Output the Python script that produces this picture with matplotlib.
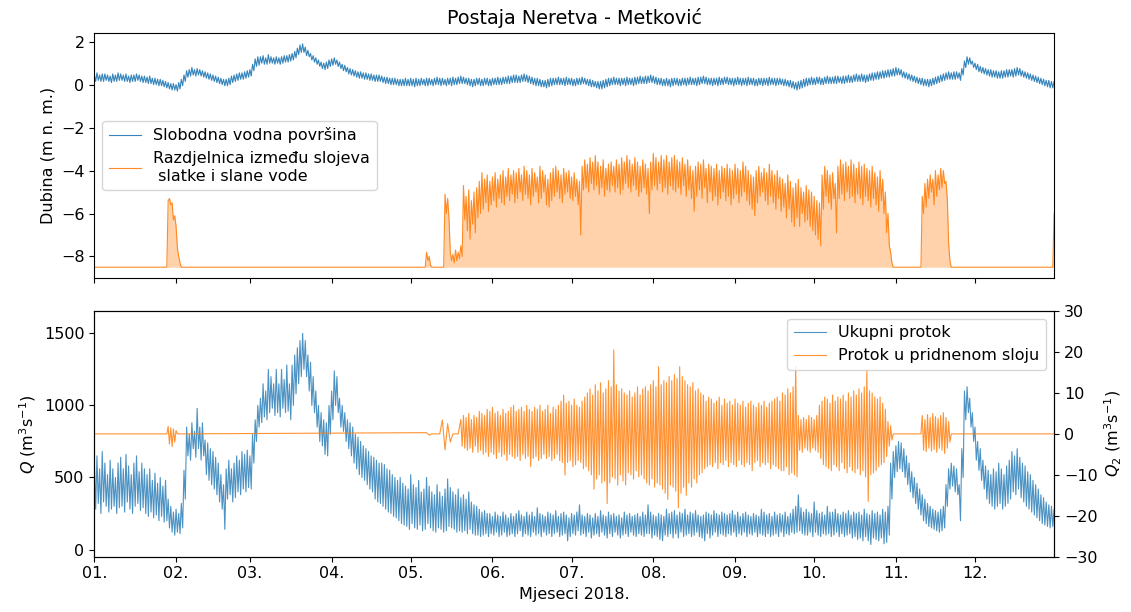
import numpy as np
import pandas as pd
import matplotlib.pyplot as plt
import matplotlib.dates as mdates

plt.rcParams['font.size'] = 11.5

START = pd.Timestamp('2018-01-01')
LAST_DAY = 364
HALF_DAY = 0.5

# Water level at Metković (m a.s.l.), high and low tide of each day (5 days per row)
level = [
    0.45, 0.15, 0.55, 0.2, 0.45, 0.15, 0.5, 0.15, 0.5, 0.2,
    0.45, 0.15, 0.4, 0.1, 0.5, 0.15, 0.45, 0.15, 0.55, 0.2,
    0.5, 0.2, 0.45, 0.15, 0.5, 0.15, 0.4, 0.1, 0.45, 0.15,
    0.45, 0.15, 0.5, 0.2, 0.45, 0.15, 0.4, 0.1, 0.4, 0.1,
    0.35, 0.05, 0.4, 0.05, 0.3, 0.0, 0.3, 0.0, 0.25, -0.05,
    0.25, -0.05, 0.2, -0.1, 0.15, -0.15, 0.1, -0.2, 0.05, -0.25,
    0.05, -0.25, 0.0, -0.3, 0.1, -0.2, 0.25, -0.05, 0.45, 0.15,
    0.65, 0.35, 0.7, 0.4, 0.8, 0.45, 0.7, 0.4, 0.75, 0.45,
    0.7, 0.4, 0.65, 0.35, 0.6, 0.3, 0.55, 0.25, 0.5, 0.2,
    0.45, 0.15, 0.4, 0.1, 0.35, 0.05, 0.3, 0.0, 0.25, -0.05,
    0.25, -0.05, 0.3, 0.0, 0.4, 0.1, 0.45, 0.15, 0.5, 0.2,
    0.55, 0.25, 0.55, 0.25, 0.6, 0.3, 0.65, 0.35, 0.7, 0.4,
    0.95, 0.65, 1.2, 0.85, 1.3, 0.9, 1.3, 1.0, 1.35, 0.95,
    1.25, 0.95, 1.4, 1.0, 1.3, 1.0, 1.25, 0.95, 1.3, 1.0,
    1.25, 0.95, 1.3, 1.0, 1.35, 1.05, 1.35, 1.05, 1.4, 1.1,
    1.45, 1.15, 1.55, 1.25, 1.7, 1.4, 1.85, 1.5, 1.9, 1.5,
    1.75, 1.35, 1.6, 1.3, 1.45, 1.15, 1.35, 1.05, 1.25, 0.95,
    1.15, 0.85, 1.05, 0.75, 1.0, 0.7, 1.05, 0.75, 1.15, 0.85,
    1.2, 0.9, 1.25, 0.95, 1.15, 0.85, 1.05, 0.75, 0.95, 0.65,
    0.9, 0.6, 0.8, 0.5, 0.75, 0.45, 0.7, 0.4, 0.65, 0.35,
    0.6, 0.3, 0.6, 0.3, 0.55, 0.25, 0.55, 0.25, 0.5, 0.2,
    0.5, 0.2, 0.45, 0.15, 0.45, 0.15, 0.45, 0.15, 0.4, 0.1,
    0.35, 0.05, 0.35, 0.05, 0.3, 0.0, 0.3, 0.0, 0.3, 0.0,
    0.25, -0.05, 0.25, -0.05, 0.25, -0.05, 0.3, -0.05, 0.25, -0.05,
    0.3, -0.05, 0.25, -0.1, 0.3, -0.05, 0.25, -0.05, 0.3, 0.0,
    0.25, -0.05, 0.3, -0.05, 0.3, 0.0, 0.25, -0.05, 0.3, 0.0,
    0.35, 0.0, 0.3, -0.05, 0.3, 0.0, 0.25, -0.05, 0.3, 0.0,
    0.3, -0.05, 0.35, 0.0, 0.3, 0.0, 0.35, 0.05, 0.4, 0.05,
    0.35, 0.05, 0.3, 0.0, 0.3, -0.05, 0.25, -0.1, 0.25, -0.05,
    0.3, 0.0, 0.3, -0.05, 0.25, -0.05, 0.3, 0.0, 0.3, -0.05,
    0.25, -0.05, 0.3, 0.0, 0.3, 0.0, 0.35, 0.0, 0.3, 0.0,
    0.35, 0.05, 0.35, 0.05, 0.4, 0.05, 0.4, 0.1, 0.45, 0.1,
    0.45, 0.1, 0.4, 0.1, 0.45, 0.15, 0.5, 0.15, 0.45, 0.1,
    0.4, 0.05, 0.35, 0.0, 0.3, -0.05, 0.3, -0.05, 0.25, -0.1,
    0.2, -0.1, 0.2, -0.15, 0.25, -0.1, 0.3, -0.05, 0.3, 0.0,
    0.3, 0.0, 0.35, 0.0, 0.3, 0.0, 0.3, -0.05, 0.35, 0.0,
    0.3, 0.0, 0.3, -0.05, 0.25, -0.05, 0.3, 0.0, 0.3, 0.0,
    0.35, 0.05, 0.3, 0.0, 0.25, -0.05, 0.25, -0.1, 0.2, -0.1,
    0.15, -0.15, 0.15, -0.2, 0.15, -0.2, 0.2, -0.15, 0.25, -0.1,
    0.3, -0.05, 0.3, 0.0, 0.35, 0.0, 0.3, 0.0, 0.3, -0.05,
    0.3, 0.0, 0.3, -0.05, 0.35, 0.0, 0.3, 0.0, 0.3, -0.05,
    0.35, 0.0, 0.35, 0.05, 0.4, 0.05, 0.35, 0.05, 0.4, 0.05,
    0.4, 0.1, 0.45, 0.1, 0.4, 0.05, 0.35, 0.0, 0.3, 0.0,
    0.3, -0.05, 0.25, -0.05, 0.3, -0.05, 0.25, -0.1, 0.3, -0.05,
    0.3, 0.0, 0.3, -0.05, 0.25, -0.05, 0.3, 0.0, 0.3, -0.05,
    0.3, 0.0, 0.35, 0.0, 0.3, 0.0, 0.3, -0.05, 0.35, 0.0,
    0.35, 0.05, 0.4, 0.05, 0.35, 0.0, 0.3, 0.0, 0.3, -0.05,
    0.3, 0.0, 0.3, -0.05, 0.35, 0.0, 0.3, 0.0, 0.35, 0.05,
    0.35, 0.0, 0.3, 0.0, 0.3, -0.05, 0.3, 0.0, 0.35, 0.0,
    0.3, -0.05, 0.3, 0.0, 0.3, -0.05, 0.35, 0.0, 0.3, 0.0,
    0.3, -0.05, 0.25, -0.05, 0.3, 0.0, 0.3, -0.05, 0.3, 0.0,
    0.3, -0.05, 0.35, 0.0, 0.3, 0.0, 0.3, -0.05, 0.3, 0.0,
    0.3, 0.0, 0.25, -0.05, 0.25, -0.05, 0.2, -0.1, 0.2, -0.15,
    0.15, -0.2, 0.1, -0.25, 0.15, -0.2, 0.2, -0.15, 0.25, -0.1,
    0.3, -0.05, 0.3, 0.0, 0.35, 0.0, 0.3, 0.0, 0.35, 0.05,
    0.35, 0.0, 0.3, 0.0, 0.35, 0.05, 0.4, 0.05, 0.35, 0.05,
    0.35, 0.05, 0.4, 0.05, 0.4, 0.1, 0.35, 0.05, 0.4, 0.05,
    0.4, 0.1, 0.45, 0.1, 0.4, 0.1, 0.45, 0.15, 0.5, 0.15,
    0.45, 0.15, 0.5, 0.15, 0.45, 0.1, 0.45, 0.15, 0.5, 0.2,
    0.55, 0.2, 0.55, 0.25, 0.6, 0.25, 0.6, 0.3, 0.65, 0.3,
    0.65, 0.35, 0.7, 0.35, 0.7, 0.4, 0.75, 0.4, 0.8, 0.45,
    0.75, 0.45, 0.7, 0.35, 0.6, 0.3, 0.55, 0.25, 0.5, 0.2,
    0.45, 0.15, 0.4, 0.1, 0.35, 0.05, 0.3, 0.0, 0.3, -0.05,
    0.25, -0.05, 0.25, -0.1, 0.25, -0.05, 0.3, 0.0, 0.35, 0.05,
    0.4, 0.1, 0.45, 0.15, 0.5, 0.2, 0.55, 0.25, 0.6, 0.25,
    0.55, 0.25, 0.6, 0.25, 0.6, 0.3, 0.55, 0.2, 0.75, 0.45,
    1.1, 0.8, 1.3, 0.95, 1.25, 0.95, 1.1, 0.8, 1.0, 0.7,
    0.95, 0.6, 0.85, 0.55, 0.8, 0.5, 0.75, 0.45, 0.7, 0.4,
    0.7, 0.35, 0.65, 0.35, 0.65, 0.3, 0.6, 0.3, 0.65, 0.3,
    0.65, 0.35, 0.7, 0.35, 0.7, 0.4, 0.7, 0.35, 0.75, 0.4,
    0.8, 0.45, 0.75, 0.4, 0.65, 0.35, 0.6, 0.3, 0.55, 0.25,
    0.5, 0.2, 0.45, 0.15, 0.4, 0.1, 0.35, 0.05, 0.3, 0.0,
    0.25, -0.05, 0.2, -0.1, 0.2, -0.15, 0.15, -0.15, 0.15, -0.2,
]

# Depth of the fresh/salt water interface (m); -8.5 is the river bed
IFACE_BASE = -8.5
iface_jan = [-8.5, -5.4, -5.3, -5.6, -5.5, -6.3, -6.1, -6.6, -7.6, -8.0, -8.3, -8.5]
iface_summer = [
    -8.5, -8.5, -7.8, -8.2, -8.0, -8.4, -8.5, -8.5, -8.5, -8.5,
    -8.5, -8.5, -8.5, -8.5, -8.5, -8.5, -5.1, -6.0, -5.3, -6.2,
    -7.8, -8.2, -7.9, -8.3, -7.7, -8.2, -7.8, -8.1, -7.5, -8.0,
    -4.7, -6.3, -5.2, -6.8, -4.9, -7.2, -5.4, -6.5, -5.0, -6.9,
    -4.8, -6.2, -4.5, -6.0, -4.1, -5.8, -4.4, -5.5, -4.2, -5.9,
    -4.5, -5.6, -4.3, -5.4, -4.1, -5.7, -4.4, -5.3, -4.2, -5.5,
    -4.0, -5.6, -4.3, -5.2, -3.9, -5.4, -4.2, -5.1, -4.0, -5.5,
    -4.1, -5.3, -3.9, -5.0, -4.2, -5.4, -3.8, -5.1, -4.0, -5.3,
    -4.2, -5.6, -3.9, -5.2, -4.1, -5.0, -4.3, -5.5, -3.8, -5.3,
    -4.0, -5.0, -4.2, -5.6, -4.4, -5.7, -4.1, -5.4, -3.9, -5.2,
    -3.8, -5.0, -4.0, -5.3, -4.2, -5.5, -3.9, -5.1, -4.1, -5.0,
    -4.0, -5.3, -4.3, -5.4, -4.1, -5.2, -4.4, -5.6, -4.5, -7.0,
    -3.8, -4.9, -3.5, -4.8, -3.7, -5.0, -3.4, -4.6, -3.6, -4.9,
    -3.3, -4.7, -3.6, -5.1, -3.8, -4.8, -3.5, -5.2, -3.9, -4.9,
    -3.7, -5.0, -3.6, -4.7, -3.8, -5.0, -3.5, -4.8, -3.7, -5.1,
    -3.4, -4.9, -3.6, -4.6, -3.3, -4.8, -3.5, -5.0, -3.7, -4.7,
    -3.4, -4.9, -3.6, -5.2, -3.8, -5.0, -3.5, -4.8, -3.7, -5.1,
    -3.9, -6.0, -3.6, -4.9, -3.2, -4.7, -3.4, -4.9, -3.6, -4.6,
    -3.3, -5.0, -3.5, -4.8, -3.3, -5.1, -3.6, -4.7, -3.4, -4.9,
    -3.3, -5.0, -3.5, -4.8, -3.6, -5.1, -3.4, -4.7, -3.7, -5.2,
    -3.5, -4.9, -3.8, -5.3, -4.0, -5.9, -3.8, -5.2, -3.6, -4.9,
    -3.7, -5.3, -3.5, -4.8, -3.9, -5.5, -3.7, -5.0, -3.8, -5.4,
    -3.9, -5.2, -3.7, -5.6, -4.0, -5.3, -3.8, -5.0, -3.9, -5.4,
    -3.7, -5.2, -3.9, -5.6, -4.0, -5.3, -3.7, -5.1, -3.9, -5.5,
    -4.0, -5.2, -3.6, -5.0, -3.8, -5.4, -4.0, -5.6, -4.2, -5.8,
    -4.3, -6.1, -4.0, -5.5, -3.8, -5.2, -4.1, -5.0, -3.9, -5.4,
    -4.1, -5.6, -3.7, -5.2, -4.0, -5.5, -4.2, -5.8, -4.0, -5.3,
    -4.3, -5.9, -4.4, -5.7, -4.6, -6.2, -4.2, -5.8, -4.5, -6.4,
    -4.8, -6.6, -4.6, -6.2, -4.4, -6.6, -4.8, -6.0, -5.0, -6.4,
    -4.7, -6.3, -4.9, -6.6, -5.0, -6.8, -5.2, -7.0, -5.4, -7.2,
    -5.5, -7.5, -4.2, -5.8, -3.8, -5.2, -4.0, -5.5, -4.2, -5.8,
    -4.1, -5.3, -4.6, -6.9, -3.8, -5.3, -3.5, -5.1, -3.7, -5.4,
    -3.6, -5.0, -3.8, -5.3, -3.5, -5.2, -3.7, -5.5, -3.9, -5.1,
    -3.6, -5.3, -3.8, -5.6, -3.7, -5.2, -3.9, -5.4, -4.0, -5.7,
    -3.8, -5.3, -4.1, -5.6, -4.3, -5.9, -4.0, -5.4, -4.4, -6.0,
    -5.0, -6.9, -6.0, -7.5, -7.8, -8.3, -8.5, -8.5,
]
iface_nov = [
    -8.5, -8.5, -5.2, -6.0, -4.6, -5.7, -4.4, -5.3, -4.2, -5.0,
    -4.4, -5.6, -4.0, -5.2, -4.2, -4.9, -3.9, -4.8, -4.0, -4.6,
    -4.5, -5.3, -7.4, -8.2, -8.5, -8.5,
]
iface_dec = [-8.5, -6.0]

# Total discharge Q (m3/s), daily maximum and minimum (5 days per row)
flow_total = [
    600, 280, 650, 320, 560, 250, 680, 330, 600, 300,
    520, 260, 620, 280, 560, 300, 500, 250, 600, 290,
    640, 300, 560, 260, 660, 330, 580, 280, 520, 250,
    600, 300, 650, 320, 540, 270, 600, 290, 560, 250,
    520, 230, 560, 260, 480, 220, 530, 240, 460, 200,
    500, 230, 440, 190, 480, 200, 350, 150, 300, 120,
    260, 100, 280, 120, 250, 110, 320, 150, 550, 350,
    850, 650, 800, 620, 880, 700, 820, 640, 980, 700,
    850, 620, 880, 650, 760, 520, 740, 480, 700, 450,
    680, 420, 640, 380, 600, 330, 520, 280, 450, 140,
    560, 350, 620, 380, 560, 330, 600, 360, 650, 400,
    620, 380, 680, 420, 660, 400, 690, 430, 650, 420,
    800, 600, 900, 750, 1000, 850, 1050, 880, 1150, 920,
    1100, 900, 1250, 950, 1200, 980, 1150, 930, 1250, 950,
    1150, 920, 1250, 980, 1180, 950, 1280, 960, 1150, 900,
    1280, 1000, 1350, 1080, 1400, 1150, 1450, 1200, 1500, 1250,
    1450, 1200, 1350, 1100, 1300, 1000, 1200, 950, 1100, 850,
    1000, 750, 950, 720, 900, 660, 880, 650, 1000, 800,
    1100, 900, 1240, 1000, 1200, 950, 1050, 850, 1000, 820,
    950, 750, 900, 700, 880, 650, 850, 600, 800, 560,
    780, 520, 750, 500, 720, 480, 700, 450, 680, 420,
    650, 400, 640, 350, 620, 330, 600, 320, 600, 300,
    590, 280, 560, 260, 550, 250, 520, 230, 500, 220,
    480, 200, 500, 180, 460, 170, 440, 160, 420, 140,
    520, 180, 450, 150, 430, 140, 480, 170, 400, 130,
    420, 140, 500, 180, 440, 150, 400, 130, 380, 120,
    450, 150, 400, 140, 370, 120, 420, 130, 490, 160,
    430, 150, 400, 140, 380, 120, 420, 130, 360, 120,
    380, 130, 350, 110, 400, 140, 330, 110, 310, 100,
    300, 100, 280, 90, 260, 100, 270, 110, 250, 90,
    250, 110, 230, 100, 260, 120, 240, 90, 230, 100,
    260, 120, 240, 90, 220, 100, 250, 110, 230, 90,
    250, 110, 270, 130, 240, 90, 230, 110, 260, 100,
    240, 90, 260, 120, 230, 100, 290, 110, 250, 90,
    240, 120, 230, 100, 260, 110, 250, 90, 240, 110,
    270, 120, 230, 90, 250, 100, 260, 110, 240, 60,
    220, 90, 250, 110, 240, 100, 260, 130, 310, 100,
    240, 110, 230, 90, 250, 120, 240, 80, 220, 100,
    250, 110, 230, 90, 270, 120, 240, 100, 230, 80,
    260, 110, 240, 90, 250, 120, 230, 100, 240, 80,
    220, 100, 260, 110, 240, 90, 250, 120, 230, 100,
    240, 90, 250, 110, 230, 100, 260, 90, 240, 110,
    310, 110, 260, 80, 240, 100, 230, 90, 250, 70,
    240, 60, 230, 100, 280, 90, 250, 110, 260, 80,
    270, 110, 240, 80, 260, 120, 250, 90, 280, 100,
    240, 110, 260, 90, 250, 100, 270, 120, 240, 90,
    230, 80, 240, 60, 260, 110, 250, 80, 240, 100,
    270, 120, 250, 90, 240, 110, 260, 100, 250, 90,
    240, 110, 250, 100, 270, 120, 240, 90, 260, 110,
    230, 100, 250, 120, 260, 90, 240, 110, 230, 100,
    250, 120, 240, 90, 230, 110, 280, 100, 260, 90,
    240, 110, 250, 90, 230, 100, 260, 110, 240, 90,
    250, 120, 240, 90, 260, 110, 230, 100, 250, 120,
    280, 110, 300, 120, 380, 130, 290, 110, 260, 100,
    280, 100, 260, 120, 250, 90, 330, 120, 270, 100,
    250, 90, 260, 110, 240, 100, 300, 110, 260, 90,
    260, 100, 280, 120, 250, 90, 240, 110, 260, 90,
    250, 100, 270, 110, 240, 80, 260, 90, 250, 70,
    260, 80, 240, 60, 280, 90, 250, 60, 240, 35,
    270, 80, 250, 70, 260, 60, 240, 80, 280, 40,
    260, 50, 300, 100, 600, 350, 680, 500, 720, 540,
    750, 560, 740, 540, 700, 500, 650, 450, 600, 400,
    540, 360, 500, 320, 460, 280, 420, 240, 380, 200,
    350, 180, 320, 160, 300, 150, 280, 140, 270, 130,
    260, 120, 280, 130, 300, 150, 450, 300, 560, 420,
    600, 440, 580, 400, 560, 380, 450, 200, 700, 500,
    1100, 900, 1130, 950, 1050, 850, 950, 750, 850, 620,
    750, 550, 700, 480, 620, 420, 580, 350, 550, 320,
    520, 300, 560, 280, 540, 300, 600, 320, 560, 280,
    520, 300, 580, 320, 620, 350, 680, 400, 650, 380,
    700, 420, 640, 360, 600, 330, 580, 300, 540, 280,
    520, 260, 480, 240, 450, 220, 420, 200, 380, 180,
    360, 170, 330, 160, 310, 150, 300, 160, 280, 170,
]

# Discharge in the bottom (salt) layer Q2 (m3/s)
q2_jan = [0, 1.8, -2.5, 1.5, -3.1, 1.2, -2.0, 0.8, 0]
q2_may = [0.3, -0.3, 0, 0, 0, 0, 3.4, -3.9, 2.5, -2.0, 0, 0, 0]
q2_summer = [
    3.5, -3.0, 4.5, -3.5, 4.0, -4.0, 5.0, -3.5, 3.5, -4.5,
    4.5, -3.0, 4.0, -4.5, 5.5, -4.0, 5.0, -5.0, 4.5, -4.5,
    6.0, -5.5, 5.5, -4.5, 6.5, -5.0, 5.0, -6.0, 5.5, -4.5,
    4.5, -5.5, 6.0, -5.0, 5.0, -6.5, 5.5, -5.0, 6.5, -5.5,
    7.0, -6.0, 5.5, -5.5, 6.0, -6.5, 6.5, -5.0, 5.5, -6.0,
    7.0, -5.5, 6.0, -8.0, 5.5, -6.0, 6.5, -5.5, 6.0, -6.5,
    7.0, -6.0, 5.5, -5.0, 6.0, -6.0, 7.0, -5.5, 5.0, -6.5,
    6.5, -6.0, 6.0, -5.0, 7.0, -6.5, 8.0, -7.0, 9.5, -10.0,
    7.5, -7.0, 8.0, -6.5, 7.0, -8.0, 8.5, -7.5, 7.0, -6.5,
    6.5, -7.0, 8.0, -8.5, 9.0, -8.0, 10.0, -9.0, 11.0, -10.0,
    9.5, -13.5, 12.0, -11.0, 10.5, -10.0, 12.5, -12.0, 10.0, -11.5,
    11.0, -17.0, 13.0, -12.0, 11.5, -10.5, 20.5, -11.0, 12.0, -12.5,
    10.5, -10.0, 11.0, -11.5, 10.0, -12.5, 9.5, -9.5, 10.5, -10.0,
    9.0, -11.0, 10.0, -9.0, 11.5, -10.5, 9.5, -10.0, 11.0, -11.0,
    11.5, -12.0, 10.5, -12.5, 12.0, -11.0, 13.0, -13.0, 11.5, -12.0,
    16.4, -12.5, 12.0, -13.5, 13.0, -14.5, 12.5, -16.0, 14.0, -12.5,
    13.0, -13.0, 14.5, -14.0, 13.5, -18.0, 16.4, -14.5, 14.0, -13.0,
    13.0, -15.0, 12.0, -12.0, 11.5, -13.0, 12.5, -11.0, 10.5, -12.0,
    11.0, -10.0, 10.0, -9.5, 9.5, -8.5, 8.0, -8.0, 9.0, -7.5,
    8.5, -8.0, 7.5, -7.0, 8.0, -8.5, 9.0, -7.0, 7.0, -7.5,
    8.5, -6.5, 7.5, -8.0, 8.0, -7.0, 7.0, -7.5, 8.5, -8.0,
    7.5, -6.5, 7.0, -7.5, 8.0, -8.0, 6.5, -7.0, 7.5, -7.5,
    8.0, -9.0, 7.0, -7.0, 6.5, -6.5, 7.5, -8.0, 7.0, -7.0,
    8.0, -7.5, 6.5, -7.0, 7.5, -8.5, 8.0, -7.5, 8.5, -8.0,
    9.0, -8.5, 8.0, -9.0, 10.0, -9.0, 9.5, -8.0, 11.0, -10.0,
    10.0, -9.5, 11.5, -10.0, 16.5, -10.5, 4.5, -4.0, 3.5, -4.5,
    4.0, -3.5, 3.5, -4.0, 4.5, -4.5, 4.0, -3.5, 3.5, -4.0,
    4.5, -4.5, 7.0, -6.0, 8.0, -7.5, 9.0, -8.0, 8.5, -8.5,
    7.5, -9.0, 9.5, -7.5, 8.0, -8.0, 9.0, -9.0, 8.5, -7.0,
    9.5, -8.5, 8.0, -9.5, 10.0, -8.0, 9.0, -9.0, 10.5, -9.5,
    9.5, -8.5, 11.0, -10.0, 10.0, -9.0, 11.5, -10.5, 15.5, -16.5,
    10.5, -10.0, 10.0, -9.5, 9.0, -9.0, 8.5, -8.0, 9.0, -7.5,
    7.5, -7.0, 6.0, -5.5, 3.0, -3.0, 2.0, -1.5, 0.0, 0.0,
]
q2_nov = [
    0, 0, 4.5, -4.0, 3.5, -4.3, 4.7, -3.5, 4.0, -4.2,
    5.0, -3.8, 4.2, -4.5, 3.8, -3.5, 4.5, -4.0, 5.2, -4.8,
    4.0, -3.5, 3.0, -2.0, 0, 0,
]


def series_dates(values, start_day=0.0, step=HALF_DAY):
    days = start_day + step * np.arange(len(values))
    return START + pd.to_timedelta(days, unit='D')


def join_episodes(base, episodes):
    """Put short episodes (start day, step, values) on a flat base line."""
    days, vals = [0.0], [base]
    for start, step, values in episodes:
        days.extend(start + step * np.arange(len(values)))
        vals.extend(values)
    if days[-1] < LAST_DAY:
        days.append(LAST_DAY)
        vals.append(base)
    return START + pd.to_timedelta(days, unit='D'), np.array(vals, dtype=float)


iface_t, iface = join_episodes(IFACE_BASE, [
    (27.5, HALF_DAY, iface_jan),
    (125, HALF_DAY, iface_summer),
    (313, HALF_DAY, iface_nov),
    (363.5, HALF_DAY, iface_dec),
])
q2_t, q2 = join_episodes(0.0, [
    (27.5, 0.5, q2_jan),
    (126, 1.0, q2_may),
    (139, HALF_DAY, q2_summer),
    (313, HALF_DAY, q2_nov),
])

fig, (ax1, ax2) = plt.subplots(2, 1, sharex=True, figsize=(11.31, 6.12), dpi=100)
fig.subplots_adjust(left=0.0834, right=0.932, top=0.9466, bottom=0.0903, hspace=0.133)

# upper panel: water level and interface depth
ax1.plot(series_dates(level), level, color='tab:blue', lw=0.8, alpha=0.9,
         label='Slobodna vodna površina')
ax1.plot(iface_t, iface, color='tab:orange', lw=0.8, alpha=0.9,
         label='Razdjelnica između slojeva\n slatke i slane vode')
ax1.fill_between(iface_t, iface, IFACE_BASE, color='tab:orange', alpha=0.35, lw=0)
ax1.set_ylabel('Dubina (m n. m.)')
ax1.set_title('Postaja Neretva - Metković')
ax1.legend(loc='center left')

# lower panel: total discharge (left) and bottom layer discharge (right)
ax2.plot(series_dates(flow_total), flow_total, color='tab:blue', lw=0.8, alpha=0.8,
         label='Ukupni protok')
ax2.set_ylim(-50, 1655)
ax2.set_yticks([0, 500, 1000, 1500])
ax2.set_ylabel(r'$Q$ (m$^3$s$^{-1}$)')

ax3 = ax2.twinx()
ax3.plot(q2_t, q2, color='tab:orange', lw=0.8, alpha=0.85,
         label='Protok u pridnenom sloju')
ax3.set_ylim(-30, 30)
ax3.set_yticks([-30, -20, -10, 0, 10, 20, 30])
ax3.set_ylabel(r'$Q_2$ (m$^3$s$^{-1}$)')

h1, l1 = ax2.get_legend_handles_labels()
h2, l2 = ax3.get_legend_handles_labels()
ax3.legend(h1 + h2, l1 + l2, loc='upper right')

ax2.set_xlim(START, START + pd.Timedelta(days=LAST_DAY))
ax2.xaxis.set_major_locator(mdates.MonthLocator())
ax2.xaxis.set_major_formatter(mdates.DateFormatter('%m.'))
ax2.set_xlabel('Mjeseci 2018.')

fig.savefig('out.png', dpi=100)
